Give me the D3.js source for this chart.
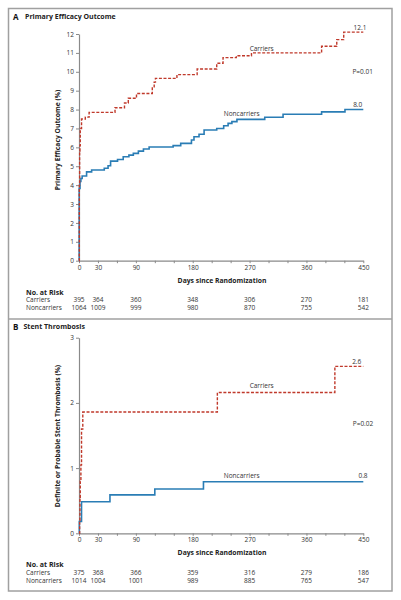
<!DOCTYPE html>
<html><head><meta charset="utf-8">
<script src="https://cdn.jsdelivr.net/npm/d3@7"></script>
<style>
body{margin:0;background:#fff;}
svg{display:block;font-family:"Open Sans","Noto Sans",sans-serif;}
</style></head>
<body>
<script>
// ---- Data ----
const xTicks = [0,30,60,90,120,150,180,210,240,270,300,330,360,390,420,450];
const xTickLabels = [0,30,90,180,270,360,450];
const riskDays = [0,30,90,180,270,360,450];

// Panel A: Primary efficacy outcome (%)
const aCarriers = [[0,0],[0.5,4.0],[1,5.8],[1.5,6.1],[2,7.0],[4,7.5],[10,7.6],[16,7.85],[57,8.1],[72,8.35],[78,8.6],[91,8.85],[116,9.2],[119,9.45],[121,9.65],[155,9.85],[187,10.15],[218,10.45],[228,10.75],[249,10.85],[273,11.0],[384,11.35],[408,11.7],[419,12.1],[450,12.1]];
const aNoncarriers = [[0,0],[0.3,3.83],[1.6,4.2],[3,4.35],[5,4.48],[12,4.7],[20,4.8],[40,4.89],[46,5.03],[50,5.27],[61,5.36],[70,5.5],[79,5.59],[86,5.68],[94,5.8],[102,5.91],[111,6.02],[149,6.09],[161,6.21],[178,6.39],[182,6.56],[190,6.69],[198,6.92],[218,7.0],[229,7.14],[236,7.27],[242,7.36],[250,7.48],[294,7.59],[323,7.75],[384,7.88],[421,8.0],[450,8.0]];
const aYTicks = [0,1,2,3,4,5,6,7,8,9,10,11,12];
const aRiskCarriers = [395,364,360,348,306,270,181];
const aRiskNoncarriers = [1064,1009,999,980,870,755,542];

// Panel B: Stent thrombosis (%)
const bCarriers = [[0,0],[1,0.2],[1.5,0.55],[2,0.8],[3,1.05],[4,1.6],[6,1.86],[219,2.16],[405,2.56],[450,2.56]];
const bNoncarriers = [[0,0],[0.5,0.18],[4,0.485],[49,0.59],[120,0.68],[197,0.79],[450,0.79]];
const bYTicks = [0,1,2,3];
const bRiskCarriers = [375,368,366,359,316,279,186];
const bRiskNoncarriers = [1014,1004,1001,989,885,765,547];

const RED = "#c0392b", BLUE = "#2a7db5", AX = "#8a8a8a", TXT = "#333";

const svg = d3.select("body").append("svg").attr("width",401).attr("height",600);

// outer frame + divider
svg.append("rect").attr("x",8.5).attr("y",8.5).attr("width",383.5).attr("height",582.5)
  .attr("fill","none").attr("stroke","#a0a0a0").attr("stroke-width",1.5);
svg.append("line").attr("x1",8.5).attr("x2",392).attr("y1",319).attr("y2",319)
  .attr("stroke","#a0a0a0").attr("stroke-width",1.5);

function panel(o){
  const x = d3.scaleLinear().domain([0,450]).range([79,363.3]);
  const y = d3.scaleLinear().domain([0,o.yMax]).range([o.y0,o.y1]);
  const g = svg.append("g");

  // title
  g.append("text").attr("x",13).attr("y",o.titleY).attr("dy","0.35em")
    .attr("font-size",8).attr("font-weight","bold").attr("fill","#111").text(o.letter);
  g.append("text").attr("x",o.titleX).attr("y",o.titleY).attr("dy","0.35em")
    .attr("font-size",7).attr("font-weight","bold").attr("fill","#222").text(o.title);

  // y axis
  const ya = g.append("g").attr("transform","translate(79,0)")
    .call(d3.axisLeft(y).tickValues(o.yTicks).tickSize(3).tickPadding(2).tickSizeOuter(0).tickFormat(d3.format("d")));
  ya.select(".domain").attr("stroke",AX).attr("stroke-width",1.2);
  ya.selectAll(".tick line").attr("stroke",AX);
  ya.selectAll("text").attr("font-size",6.5).attr("fill",TXT).attr("font-family","Open Sans, Noto Sans, sans-serif");

  // x axis
  const xa = g.append("g").attr("transform",`translate(0,${o.y0})`)
    .call(d3.axisBottom(x).tickValues(xTicks).tickSize(2.5).tickPadding(2).tickSizeOuter(0)
      .tickFormat(d => xTickLabels.includes(d) ? d : ""));
  xa.select(".domain").attr("stroke",AX).attr("stroke-width",1.2);
  xa.selectAll(".tick line").attr("stroke",AX);
  xa.selectAll("text").attr("font-size",6.5).attr("fill",TXT).attr("font-family","Open Sans, Noto Sans, sans-serif");

  // axis titles
  g.append("text").attr("x",222).attr("y",o.y0+19.5).attr("text-anchor","middle").attr("dy","0.35em")
    .attr("font-size",6.8).attr("font-weight","bold").attr("fill","#222").text("Days since Randomization");
  g.append("text").attr("transform",`translate(58,${o.yTitleY}) rotate(-90)`).attr("text-anchor","middle")
    .attr("dy","0.35em").attr("font-size",6.8).attr("font-weight","bold").attr("fill","#222").text(o.yTitle);

  // curves
  const line = d3.line().x(d=>x(d[0])).y(d=>y(d[1])).curve(d3.curveStepAfter);
  g.append("path").datum(o.non).attr("d",line).attr("fill","none").attr("stroke",BLUE).attr("stroke-width",1.6);
  g.append("path").datum(o.car).attr("d",line).attr("fill","none").attr("stroke",RED).attr("stroke-width",1.4)
    .attr("stroke-dasharray","3,1.6");

  // labels
  const lab = (tx,ty,t)=>g.append("text").attr("x",tx).attr("y",ty).attr("dy","0.35em").attr("text-anchor","middle")
    .attr("font-size",6.5).attr("fill",TXT).text(t);
  o.labels.forEach(l=>lab(l[0],l[1],l[2]));

  // risk table
  const ry = o.y0 + 31.5;
  g.append("text").attr("x",26).attr("y",ry).attr("dy","0.35em").attr("font-size",7)
    .attr("font-weight","bold").attr("fill","#222").text("No. at Risk");
  [["Carriers",o.riskC],["Noncarriers",o.riskN]].forEach((r,i)=>{
    const yy = ry + 8 + i*7.8;
    g.append("text").attr("x",26).attr("y",yy).attr("dy","0.35em").attr("font-size",6.5).attr("fill",TXT).text(r[0]);
    r[1].forEach((v,j)=>g.append("text").attr("x",x(riskDays[j])).attr("y",yy).attr("dy","0.35em")
      .attr("text-anchor","middle").attr("font-size",6.5).attr("fill",TXT).text(v));
  });
}

panel({letter:"A", title:"Primary Efficacy Outcome", titleX:25, titleY:17,
  yMax:12, y0:260.7, y1:34, yTicks:aYTicks, yTitle:"Primary Efficacy Outcome (%)", yTitleY:140,
  car:aCarriers, non:aNoncarriers, riskC:aRiskCarriers, riskN:aRiskNoncarriers,
  labels:[[261.7,48.3,"Carriers"],[241.7,113.3,"Noncarriers"],[360,27.7,"12.1"],[357.7,105,"8.0"],[362.7,71.7,"P=0.01"]]});

panel({letter:"B", title:"Stent Thrombosis", titleX:23.5, titleY:327,
  yMax:3, y0:533.3, y1:337.7, yTicks:bYTicks, yTitle:"Definite or Probable Stent Thrombosis (%)", yTitleY:436,
  car:bCarriers, non:bNoncarriers, riskC:bRiskCarriers, riskN:bRiskNoncarriers,
  labels:[[261.7,386,"Carriers"],[241.7,475.7,"Noncarriers"],[356.7,361.7,"2.6"],[363,475.7,"0.8"],[363,424,"P=0.02"]]});
</script>
</body></html>
